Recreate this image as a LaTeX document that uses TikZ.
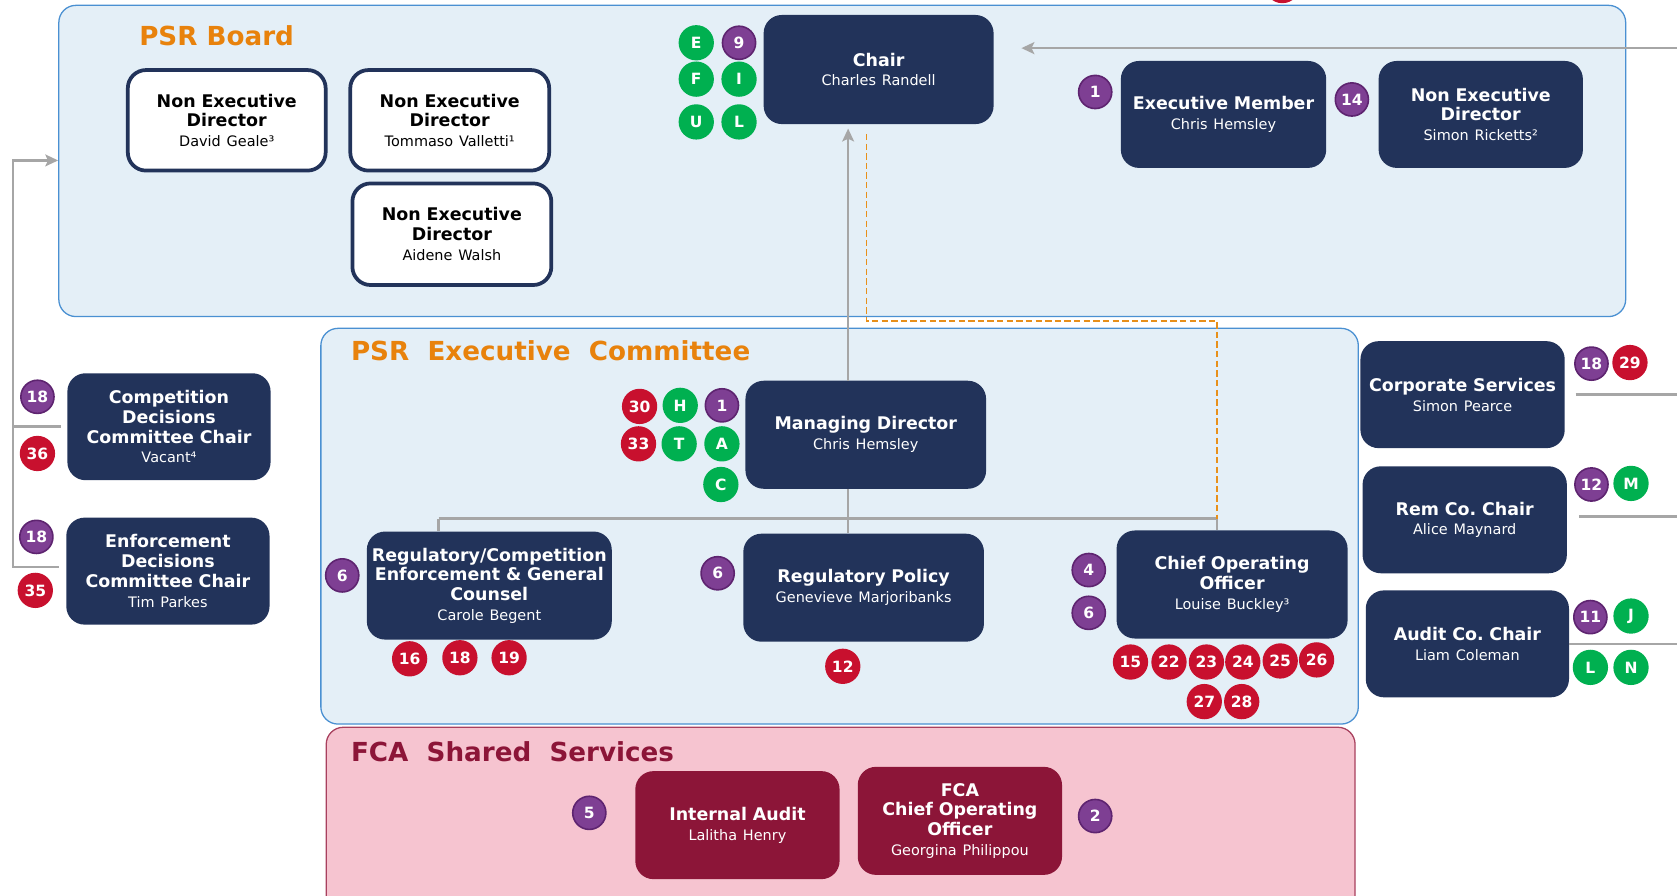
\documentclass[tikz,border=0pt]{standalone}
\usepackage{fontspec}
\usetikzlibrary{arrows.meta}
\setmainfont{DejaVu Sans}
\definecolor{navy}{HTML}{22335A}
\definecolor{panelfill}{HTML}{E4EFF7}
\definecolor{panelblue}{HTML}{4A90D2}
\definecolor{titleorange}{HTML}{E8820C}
\definecolor{linkorange}{HTML}{E8901A}
\definecolor{linegray}{HTML}{A6A6A6}
\definecolor{badgepurple}{HTML}{7E3F93}
\definecolor{badgepurpledark}{HTML}{5E2470}
\definecolor{badgered}{HTML}{C8102E}
\definecolor{badgegreen}{HTML}{00B050}
\definecolor{fcapink}{HTML}{F6C4D0}
\definecolor{fcaborder}{HTML}{A8405E}
\definecolor{crimson}{HTML}{8C1538}
\newcommand{\namefont}{\fontsize{13.5}{18.5}\selectfont\mdseries}
\tikzset{
  panel/.style={draw=panelblue, line width=1.2pt, fill=panelfill, rounded corners=16pt, inner sep=0pt},
  paneltitle/.style={anchor=west, inner sep=0pt, font=\fontsize{24.5}{26}\selectfont\bfseries, text=titleorange},
  role/.style={rounded corners=17pt, fill=navy, text=white, align=center, inner sep=2pt,
    font=\fontsize{16.3}{18.5}\selectfont\bfseries},
  nedbox/.style={role, fill=white, draw=navy, line width=3.5pt, text=black},
  fcabox/.style={role, fill=crimson},
  badge/.style={circle, inner sep=0pt, minimum size=33pt, text=white, font=\fontsize{14.5}{14.5}\selectfont\bfseries},
  pbadge/.style={badge, fill=badgepurple, draw=badgepurpledark, line width=1.5pt, minimum size=31pt},
  rbadge/.style={badge, fill=badgered},
  gbadge/.style={badge, fill=badgegreen},
  conn/.style={draw=linegray, line width=2.4pt},
  tip/.style={-{Stealth[length=12pt,width=11pt,inset=2.5pt]}},
  orangelink/.style={draw=linkorange, line width=1.4pt, dash pattern=on 6pt off 3pt}
}
\begin{document}
\begin{tikzpicture}[x=1pt,y=-1pt]
\useasboundingbox (0,0) rectangle (1568,837);
% panels
\node[panel, minimum width=1465pt, minimum height=291pt] (board) at (787.5,150.5) {};
\node[panel, minimum width=970pt, minimum height=370pt] (exco) at (785,492) {};
\node[panel, draw=fcaborder, fill=fcapink, minimum width=962pt, minimum height=180pt] (fca) at (786,770) {};
\node[paneltitle] (boardTitle) at (130,33) {PSR Board};
\node[paneltitle] (excoTitle) at (328,328) {PSR\ \ Executive\ \ Committee};
\node[paneltitle, text=crimson] (fcaTitle) at (328,703) {FCA\ \ Shared\ \ Services};

% PSR Board
\node[nedbox, minimum width=185pt, minimum height=94pt, text width=175pt] (nedGeale) at (212,112.5) {Non Executive\\Director\\\namefont David Geale³};
\node[nedbox, minimum width=186pt, minimum height=94pt, text width=176pt] (nedValletti) at (420.5,112.5) {Non Executive\\Director\\\namefont Tommaso Valletti¹};
\node[nedbox, minimum width=186pt, minimum height=95pt, text width=176pt] (nedWalsh) at (422.5,219) {Non Executive\\Director\\\namefont Aidene Walsh};
\node[role, minimum width=215pt, minimum height=102pt, text width=209pt] (chair) at (821.5,65) {Chair\\\namefont Charles Randell};
\node[role, minimum width=192pt, minimum height=100pt, text width=186pt] (execMember) at (1144,107) {Executive Member\\\namefont Chris Hemsley};
\node[role, minimum width=191pt, minimum height=100pt, text width=185pt] (nedRicketts) at (1384.5,107) {Non Executive\\Director\\\namefont Simon Ricketts²};

% PSR Executive Committee
\node[role, minimum width=225pt, minimum height=101pt, text width=219pt] (md) at (809.5,406.5) {Managing Director\\\namefont Chris Hemsley};
\node[role, minimum width=229pt, minimum height=101pt, text width=223pt] (regComp) at (457.5,547.5) {Regulatory/Competition\\Enforcement \& General\\Counsel\\\namefont Carole Begent};
\node[role, minimum width=225pt, minimum height=101pt, text width=219pt] (regPolicy) at (807.5,549.5) {Regulatory Policy\\\namefont Genevieve Marjoribanks};
\node[role, minimum width=216pt, minimum height=101pt, text width=210pt] (coo) at (1152,546.5) {Chief Operating\\Officer\\\namefont Louise Buckley³};

% committees outside the panels
\node[role, minimum width=190pt, minimum height=100pt, text width=184pt] (compDec) at (158,399) {Competition\\Decisions\\Committee Chair\\\namefont Vacant⁴};
\node[role, minimum width=190pt, minimum height=100pt, text width=184pt] (enfDec) at (157,534) {Enforcement\\Decisions\\Committee Chair\\\namefont Tim Parkes};
\node[role, minimum width=191pt, minimum height=100pt, text width=185pt] (corpServ) at (1367.5,369) {Corporate Services\\\namefont Simon Pearce};
\node[role, minimum width=191pt, minimum height=100pt, text width=185pt] (remCo) at (1369.5,486) {Rem Co.\ Chair\\\namefont Alice Maynard};
\node[role, minimum width=190pt, minimum height=100pt, text width=184pt] (auditCo) at (1372,602) {Audit Co.\ Chair\\\namefont Liam Coleman};

% FCA Shared Services
\node[fcabox, minimum width=191pt, minimum height=101pt, text width=185pt] (intAudit) at (689.5,771.5) {Internal Audit\\\namefont Lalitha Henry};
\node[fcabox, minimum width=191pt, minimum height=101pt, text width=185pt] (fcaCoo) at (897.5,767.5) {FCA\\Chief Operating\\Officer\\\namefont Georgina Philippou};

% reporting lines
\coordinate (feedTop) at (1568,45);
\coordinate (feedEnd) at (955,45);
\coordinate (rightEdge) at (1568,0);
\coordinate (busL) at (410,485);
\coordinate (busM) at (793,485);
\coordinate (busR) at (1138,485);
\coordinate (dashX) at (810,0);
\coordinate (dashTurn) at (1138,300);
\coordinate (railTop) at (12,150);
\draw[conn,tip] (feedTop) -- (feedEnd);
\draw[conn] (busL) -- (busR);
\draw[conn] (md.south -| busM) -- (regPolicy.north -| busM);
\draw[conn] (busL) -- (regComp.north -| busL);
\draw[conn] (busR) -- (coo.north -| busR);
\draw[conn,tip] (md.north -| busM) -- ([yshift=-4pt]chair.south -| busM);
\draw[orangelink] ([yshift=-9pt]chair.south -| dashX) |- (dashTurn) -- (busR);
\draw[conn,tip] ([xshift=-7pt,yshift=4pt]enfDec.west) -| (railTop) -- (board.west |- railTop);
\draw[conn] ([xshift=-6pt]compDec.west) -- (compDec.west -| railTop);
\draw[conn] ([xshift=10pt]corpServ.east) -- (corpServ.east -| rightEdge);
\draw[conn] ([xshift=11pt,yshift=3pt]remCo.east) -- ([yshift=3pt]remCo.east -| rightEdge);
\draw[conn] (auditCo.east) -- (auditCo.east -| rightEdge);

% badges
\node[rbadge] (topCut) at (1199,-13.5) {};
\node[gbadge] (bE) at (651,40) {E};
\node[pbadge] (b9) at (691,40) {9};
\node[gbadge] (bF) at (651,74) {F};
\node[gbadge] (bI) at (691,74) {I};
\node[gbadge] (bU) at (651,114) {U};
\node[gbadge] (bL) at (691,114) {L};
\node[pbadge] (bExec) at (1024,86) {1};
\node[pbadge] (bRick) at (1264,93) {14};
\node[pbadge] (bComp18) at (35,371) {18};
\node[rbadge] (bComp36) at (35,424) {36};
\node[pbadge] (bEnf18) at (34,502) {18};
\node[rbadge] (bEnf35) at (33,552) {35};
\node[rbadge] (bMd30) at (598,380) {30};
\node[gbadge] (bMdH) at (636,379) {H};
\node[pbadge] (bMd1) at (675,379) {1};
\node[rbadge] (bMd33) at (597,415) {33};
\node[gbadge] (bMdT) at (635,415) {T};
\node[gbadge] (bMdA) at (675,415) {A};
\node[gbadge] (bMdC) at (674,453) {C};
\node[pbadge] (bReg6) at (320,538) {6};
\node[rbadge] (bReg16) at (383,616) {16};
\node[rbadge] (bReg18) at (430,615) {18};
\node[rbadge] (bReg19) at (476,615) {19};
\node[pbadge] (bPol6) at (671,536) {6};
\node[rbadge] (bPol12) at (788,623) {12};
\node[pbadge] (bCoo4) at (1018,533) {4};
\node[pbadge] (bCoo6) at (1018,573) {6};
\node[rbadge] (bCoo15) at (1057,619) {15};
\node[rbadge] (bCoo22) at (1093,619) {22};
\node[rbadge] (bCoo23) at (1128,619) {23};
\node[rbadge] (bCoo24) at (1162,619) {24};
\node[rbadge] (bCoo25) at (1197,618) {25};
\node[rbadge] (bCoo26) at (1231,617) {26};
\node[rbadge] (bCoo27) at (1126,656) {27};
\node[rbadge] (bCoo28) at (1161,656) {28};
\node[pbadge] (bCorp18) at (1488,340) {18};
\node[rbadge] (bCorp29) at (1524,339) {29};
\node[pbadge] (bRem12) at (1488,453) {12};
\node[gbadge] (bRemM) at (1525,452) {M};
\node[pbadge] (bAud11) at (1487,577) {11};
\node[gbadge] (bAudJ) at (1525,576) {J};
\node[gbadge] (bAudL) at (1487,624) {L};
\node[gbadge] (bAudN) at (1525,624) {N};
\node[pbadge] (bIa5) at (551,760) {5};
\node[pbadge] (bFca2) at (1024,763) {2};
\end{tikzpicture}
\end{document}
